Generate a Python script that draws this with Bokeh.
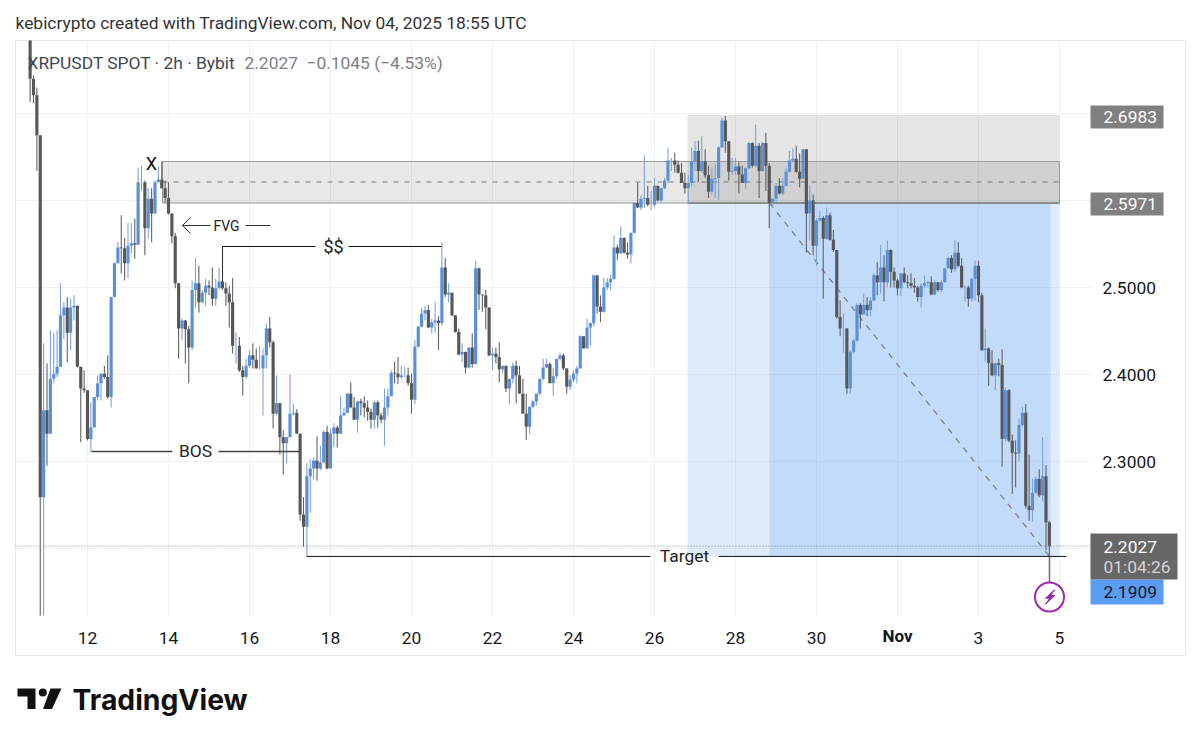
import numpy as np
from bokeh.core.properties import value
from bokeh.embed import file_html
from bokeh.models import FixedTicker, LinearAxis, NumeralTickFormatter
from bokeh.plotting import figure
from bokeh.resources import INLINE

# 2h candles, first one is Oct 10 14:00 (days past Nov 1 keep counting: 32 = Nov 1)
start_day = 10.5833
first_open = 2.784

closes = [
    2.740, 2.721, 2.675, 2.259, 2.359, 2.332, 2.395, 2.401, 2.409, 2.468,
    2.477, 2.448, 2.477, 2.479, 2.409, 2.384, 2.382, 2.326, 2.339, 2.374,
    2.390, 2.401, 2.397, 2.374, 2.489, 2.528, 2.546, 2.545, 2.528, 2.548,
    2.551, 2.549, 2.621, 2.621, 2.568, 2.602, 2.585, 2.621, 2.624, 2.614,
    2.603, 2.585, 2.559, 2.505, 2.453, 2.462, 2.452, 2.431, 2.497, 2.505,
    2.483, 2.494, 2.502, 2.500, 2.487, 2.499, 2.507, 2.499, 2.493, 2.483,
    2.433, 2.433, 2.405, 2.397, 2.410, 2.422, 2.417, 2.407, 2.407, 2.422,
    2.453, 2.437, 2.355, 2.367, 2.328, 2.321, 2.328, 2.355, 2.356, 2.332,
    2.239, 2.225, 2.283, 2.292, 2.301, 2.292, 2.299, 2.334, 2.292, 2.332,
    2.339, 2.332, 2.353, 2.356, 2.378, 2.362, 2.348, 2.369, 2.367, 2.362,
    2.357, 2.348, 2.368, 2.353, 2.348, 2.362, 2.375, 2.402, 2.401, 2.397,
    2.399, 2.399, 2.390, 2.371, 2.432, 2.455, 2.470, 2.474, 2.454, 2.460,
    2.462, 2.459, 2.523, 2.492, 2.494, 2.468, 2.449, 2.423, 2.426, 2.408,
    2.431, 2.412, 2.522, 2.492, 2.491, 2.477, 2.422, 2.424, 2.420, 2.406,
    2.410, 2.384, 2.395, 2.410, 2.399, 2.378, 2.355, 2.340, 2.363, 2.369,
    2.378, 2.395, 2.408, 2.412, 2.390, 2.398, 2.418, 2.422, 2.407, 2.386,
    2.394, 2.401, 2.407, 2.444, 2.430, 2.454, 2.459, 2.514, 2.478, 2.472,
    2.500, 2.506, 2.510, 2.546, 2.539, 2.557, 2.540, 2.538, 2.563, 2.597,
    2.592, 2.602, 2.603, 2.595, 2.595, 2.617, 2.600, 2.614, 2.623, 2.646,
    2.646, 2.641, 2.632, 2.620, 2.614, 2.620, 2.645, 2.657, 2.634, 2.645,
    2.629, 2.610, 2.625, 2.626, 2.661, 2.692, 2.668, 2.633, 2.634, 2.639,
    2.630, 2.620, 2.637, 2.666, 2.640, 2.663, 2.634, 2.666, 2.640, 2.597,
    2.602, 2.617, 2.608, 2.617, 2.633, 2.646, 2.648, 2.633, 2.625, 2.659,
    2.585, 2.600, 2.548, 2.577, 2.580, 2.556, 2.583, 2.555, 2.543, 2.466,
    2.453, 2.453, 2.384, 2.426, 2.439, 2.480, 2.469, 2.480, 2.474, 2.485,
    2.514, 2.506, 2.523, 2.506, 2.543, 2.518, 2.508, 2.499, 2.516, 2.506,
    2.505, 2.502, 2.500, 2.489, 2.502, 2.505, 2.506, 2.492, 2.506, 2.497,
    2.506, 2.522, 2.534, 2.521, 2.540, 2.525, 2.500, 2.500, 2.487, 2.510,
    2.525, 2.491, 2.428, 2.430, 2.413, 2.399, 2.413, 2.411, 2.326, 2.382,
    2.324, 2.310, 2.309, 2.342, 2.356, 2.249, 2.244, 2.264, 2.280, 2.261,
    2.283, 2.230, 2.2027,
]
highs = [
    2.784, 2.744, 2.730, 2.675, 2.436, 2.413, 2.451, 2.448, 2.451, 2.505,
    2.483, 2.489, 2.487, 2.491, 2.479, 2.409, 2.405, 2.382, 2.368, 2.374,
    2.399, 2.402, 2.410, 2.422, 2.489, 2.529, 2.552, 2.583, 2.557, 2.574,
    2.574, 2.579, 2.637, 2.640, 2.623, 2.614, 2.614, 2.623, 2.639, 2.645,
    2.623, 2.621, 2.585, 2.563, 2.505, 2.464, 2.463, 2.456, 2.508, 2.534,
    2.525, 2.497, 2.510, 2.508, 2.523, 2.510, 2.523, 2.547, 2.506, 2.502,
    2.511, 2.448, 2.443, 2.410, 2.418, 2.428, 2.436, 2.430, 2.433, 2.430,
    2.459, 2.466, 2.439, 2.399, 2.367, 2.336, 2.328, 2.400, 2.367, 2.360,
    2.332, 2.259, 2.298, 2.303, 2.305, 2.329, 2.318, 2.336, 2.341, 2.338,
    2.344, 2.341, 2.376, 2.362, 2.379, 2.391, 2.374, 2.370, 2.372, 2.375,
    2.370, 2.361, 2.370, 2.370, 2.356, 2.384, 2.384, 2.405, 2.415, 2.420,
    2.410, 2.409, 2.408, 2.401, 2.440, 2.456, 2.477, 2.479, 2.480, 2.464,
    2.484, 2.467, 2.552, 2.534, 2.505, 2.494, 2.468, 2.453, 2.436, 2.426,
    2.431, 2.447, 2.531, 2.523, 2.492, 2.497, 2.477, 2.431, 2.431, 2.437,
    2.410, 2.410, 2.395, 2.414, 2.416, 2.410, 2.395, 2.378, 2.363, 2.370,
    2.378, 2.395, 2.418, 2.418, 2.414, 2.408, 2.418, 2.425, 2.424, 2.407,
    2.399, 2.405, 2.410, 2.445, 2.443, 2.464, 2.460, 2.514, 2.514, 2.491,
    2.511, 2.511, 2.515, 2.560, 2.549, 2.570, 2.558, 2.552, 2.563, 2.598,
    2.620, 2.606, 2.652, 2.617, 2.611, 2.626, 2.617, 2.615, 2.626, 2.661,
    2.649, 2.655, 2.646, 2.643, 2.632, 2.629, 2.661, 2.668, 2.669, 2.674,
    2.659, 2.640, 2.638, 2.642, 2.663, 2.695, 2.697, 2.668, 2.649, 2.649,
    2.644, 2.640, 2.638, 2.667, 2.667, 2.687, 2.666, 2.667, 2.678, 2.643,
    2.602, 2.620, 2.626, 2.626, 2.637, 2.657, 2.660, 2.663, 2.654, 2.659,
    2.659, 2.617, 2.607, 2.580, 2.588, 2.582, 2.592, 2.586, 2.566, 2.543,
    2.485, 2.470, 2.453, 2.428, 2.441, 2.482, 2.482, 2.493, 2.489, 2.489,
    2.516, 2.529, 2.549, 2.537, 2.554, 2.544, 2.523, 2.510, 2.517, 2.523,
    2.514, 2.516, 2.511, 2.502, 2.505, 2.514, 2.508, 2.513, 2.508, 2.506,
    2.508, 2.522, 2.535, 2.537, 2.554, 2.552, 2.534, 2.502, 2.502, 2.511,
    2.531, 2.531, 2.494, 2.453, 2.431, 2.428, 2.414, 2.418, 2.429, 2.385,
    2.383, 2.331, 2.324, 2.349, 2.363, 2.366, 2.308, 2.280, 2.283, 2.291,
    2.328, 2.296, 2.232,
]
lows = [
    2.713, 2.712, 2.634, 2.123, 2.123, 2.295, 2.332, 2.390, 2.397, 2.410,
    2.441, 2.414, 2.428, 2.462, 2.408, 2.322, 2.379, 2.324, 2.311, 2.339,
    2.370, 2.370, 2.395, 2.372, 2.362, 2.489, 2.528, 2.516, 2.508, 2.511,
    2.539, 2.533, 2.549, 2.611, 2.537, 2.556, 2.552, 2.585, 2.621, 2.614,
    2.597, 2.584, 2.551, 2.499, 2.418, 2.439, 2.413, 2.390, 2.428, 2.477,
    2.471, 2.482, 2.479, 2.491, 2.479, 2.479, 2.498, 2.497, 2.479, 2.454,
    2.424, 2.413, 2.403, 2.376, 2.395, 2.408, 2.407, 2.407, 2.406, 2.353,
    2.407, 2.431, 2.338, 2.353, 2.308, 2.285, 2.298, 2.328, 2.353, 2.332,
    2.232, 2.202, 2.191, 2.241, 2.280, 2.278, 2.290, 2.298, 2.291, 2.292,
    2.316, 2.316, 2.332, 2.353, 2.356, 2.362, 2.348, 2.333, 2.353, 2.351,
    2.347, 2.338, 2.338, 2.339, 2.344, 2.318, 2.353, 2.375, 2.390, 2.389,
    2.395, 2.397, 2.387, 2.355, 2.366, 2.431, 2.454, 2.462, 2.454, 2.447,
    2.448, 2.428, 2.456, 2.489, 2.483, 2.467, 2.448, 2.422, 2.414, 2.401,
    2.407, 2.408, 2.412, 2.474, 2.472, 2.452, 2.421, 2.405, 2.413, 2.391,
    2.401, 2.380, 2.366, 2.390, 2.367, 2.378, 2.355, 2.325, 2.332, 2.361,
    2.364, 2.376, 2.393, 2.407, 2.390, 2.375, 2.395, 2.416, 2.405, 2.378,
    2.382, 2.391, 2.390, 2.407, 2.430, 2.433, 2.433, 2.455, 2.470, 2.460,
    2.471, 2.497, 2.497, 2.509, 2.532, 2.539, 2.539, 2.533, 2.528, 2.562,
    2.591, 2.589, 2.591, 2.593, 2.589, 2.592, 2.599, 2.598, 2.613, 2.620,
    2.634, 2.632, 2.631, 2.620, 2.608, 2.597, 2.616, 2.634, 2.621, 2.632,
    2.626, 2.603, 2.606, 2.603, 2.601, 2.661, 2.655, 2.623, 2.629, 2.630,
    2.608, 2.620, 2.613, 2.636, 2.638, 2.638, 2.603, 2.633, 2.611, 2.568,
    2.591, 2.598, 2.607, 2.606, 2.616, 2.632, 2.644, 2.632, 2.615, 2.625,
    2.540, 2.554, 2.537, 2.525, 2.576, 2.487, 2.555, 2.554, 2.541, 2.464,
    2.444, 2.425, 2.378, 2.378, 2.424, 2.437, 2.453, 2.468, 2.467, 2.467,
    2.485, 2.491, 2.493, 2.484, 2.500, 2.500, 2.500, 2.491, 2.490, 2.505,
    2.499, 2.499, 2.494, 2.484, 2.477, 2.499, 2.500, 2.491, 2.491, 2.495,
    2.495, 2.506, 2.522, 2.517, 2.518, 2.523, 2.499, 2.484, 2.478, 2.484,
    2.485, 2.483, 2.427, 2.415, 2.387, 2.398, 2.382, 2.398, 2.294, 2.323,
    2.322, 2.263, 2.270, 2.301, 2.340, 2.246, 2.232, 2.231, 2.263, 2.259,
    2.254, 2.198, 2.191,
]

price_ticks = [2.3, 2.4, 2.5]
grid_prices = [2.2, 2.3, 2.4, 2.5, 2.6, 2.7]
day_ticks = [12, 14, 16, 18, 20, 22, 24, 26, 28, 30, 32, 34, 36]
day_labels = {12: "12", 14: "14", 16: "16", 18: "18", 20: "20", 22: "22", 24: "24",
              26: "26", 28: "28", 30: "30", 32: "", 34: "3", 36: "5"}

last_close = 2.2027
target_low = 2.1909
zone_low = 2.5971
zone_high = 2.6983
fvg_top = 2.6448
fvg_mid = 2.6213


# screenshot pixel to axis value, only used for placing drawings and labels
def dx(sx):
    return 12 + (sx - 87) / 40.5


def py(sy):
    return 2.5 + (287 - sy) / 870


p = figure(width=1190, height=735, output_backend="svg", toolbar_location=None,
           x_range=(dx(0), dx(1190)), y_range=(py(735), py(0)),
           x_axis_location=None, y_axis_location=None,
           min_border=0, min_border_left=0, min_border_right=0,
           min_border_top=0, min_border_bottom=0, outline_line_color=None)
p.grid.visible = False


def label(sx, sy, txt, size="17.4px", color="#131722", align="left", style="normal", font="Roboto"):
    p.text(x=dx(sx), y=py(sy), text=[txt], text_font=value(font), text_font_size=size, text_color=color,
           text_align=align, text_baseline="middle", text_font_style=style)


# pane and grid
p.quad(left=dx(15), right=dx(1185), bottom=py(655), top=py(40), fill_color="white",
       line_color="#e6e7ea", line_width=1)
p.segment(x0=dx(15), x1=dx(1090), y0=grid_prices, y1=grid_prices, line_color="#f0f1f4", line_width=1)
p.segment(x0=day_ticks, x1=day_ticks, y0=py(40), y1=py(616), line_color="#f0f1f4", line_width=1)

# long position drawing
p.quad(left=dx(687), right=dx(1059), bottom=py(556), top=zone_low, fill_color="#5b9cf6",
       fill_alpha=0.2, line_color=None)
p.quad(left=dx(769), right=dx(1050), bottom=py(556), top=zone_low, fill_color="#5b9cf6",
       fill_alpha=0.2, line_color=None)
p.quad(left=dx(687), right=dx(1059), bottom=zone_low, top=zone_high, fill_color="#000000",
       fill_alpha=0.1, line_color=None)
p.quad(left=dx(162), right=dx(1059), bottom=zone_low, top=fvg_top, fill_color="#000000",
       fill_alpha=0.09, line_color="#9a9a9a", line_width=1)
p.segment(x0=dx(687), x1=dx(1059), y0=zone_low, y1=zone_low, line_color="#8c8c8c", line_width=2)
p.segment(x0=dx(162), x1=dx(1059), y0=fvg_mid, y1=fvg_mid, line_color="#7a7a7a", line_width=1,
          line_dash="5 6")
p.segment(x0=dx(769), x1=dx(1049), y0=zone_low, y1=target_low, line_color="#808080", line_width=1.3,
          line_dash="6 6")

# candles
t = start_day + np.arange(len(closes)) / 12
opens = [first_open] + closes[:-1]
is_up = [c >= o for c, o in zip(closes, opens)]
wick_colors = ["#7ba3d8" if u else "#626262" for u in is_up]
body_colors = ["#5a90da" if u else "#575757" for u in is_up]
p.segment(x0=t, x1=t, y0=lows, y1=highs, line_color=wick_colors, line_width=1.1)
p.vbar(x=t, width=0.078, bottom=opens, top=closes, fill_color=body_colors, line_color=None)

# last price
p.segment(x0=dx(15), x1=dx(1090), y0=last_close, y1=last_close, line_color="#808080", line_width=1,
          line_dash="1 2")

# annotations
p.segment(x0=[dx(91), dx(218)], x1=[dx(172), dx(300)], y0=py(451), y1=py(451), line_color="#444444", line_width=1.5)
p.segment(x0=[dx(222), dx(348)], x1=[dx(315), dx(441)], y0=py(246), y1=py(246), line_color="#111111", line_width=1)
p.segment(x0=dx(222), x1=dx(222), y0=py(246), y1=py(281), line_color="#333333", line_width=1)
p.segment(x0=[dx(306), dx(718)], x1=[dx(650), dx(1066)], y0=target_low, y1=target_low, line_color="#111111", line_width=1)
p.segment(x0=[dx(182), dx(245)], x1=[dx(210), dx(270)], y0=py(225), y1=py(225), line_color="#333333", line_width=1)
p.line(x=[dx(190), dx(182), dx(190)], y=[py(217), py(225), py(233)], line_color="#333333", line_width=1)

label(195, 450, "BOS", color="#222222", align="center")
label(333, 246, "$$", size="18px", color="#222222", align="center")
label(684, 555, "Target", color="#222222", align="center")
label(226, 225, "FVG", size="14px", color="#222222", align="center")
label(151, 163, "X", size="18px", color="#111111", align="center")

# signal marker under the last candle
p.segment(x0=dx(1049), x1=dx(1049), y0=target_low, y1=py(582), line_color="#6b6b6b", line_width=1.5)
p.scatter(x=dx(1049), y=py(596.5), marker="circle", size=29, fill_color="white", line_color="#9c27b0", line_width=2)
p.patch(x=[dx(1054), dx(1045), dx(1049.3), dx(1045), dx(1054.3), dx(1050)],
        y=[py(589.3), py(597.7), py(597.7), py(603.7), py(595), py(595)],
        fill_color="#9c27b0", line_color="#9c27b0", line_width=1)

# price scale tags
tag_left = 1090
for price, top, bottom, color in [(zone_high, 105, 128, "#808080"), (zone_low, 192, 215, "#808080")]:
    p.quad(left=dx(tag_left), right=dx(1163), bottom=py(bottom), top=py(top), fill_color=color, line_color=None)
    label(1103, (top + bottom) / 2, f"{price:.4f}", color="#ffffff")
p.quad(left=dx(tag_left), right=dx(1163), bottom=py(604), top=py(579), fill_color="#5b9cf6", line_color=None)
p.quad(left=dx(tag_left), right=dx(1177), bottom=py(579), top=py(533), fill_color="#676767", line_color=None)
label(1103, 546, f"{last_close:.4f}", color="#ffffff")
label(1103, 566, "01:04:26", color="#d4d4d4")
label(1103, 591, f"{target_low:.4f}")

# axes live inside the pane
yaxis = LinearAxis(fixed_location=dx(1096), ticker=FixedTicker(ticks=price_ticks),
                   formatter=NumeralTickFormatter(format="0.0000"))
yaxis.axis_line_color = None
yaxis.major_tick_line_color = None
yaxis.minor_tick_line_color = None
yaxis.major_label_standoff = 0
yaxis.major_label_text_font = "Roboto"
yaxis.major_label_text_font_size = "17.4px"
yaxis.major_label_text_color = "#131722"
p.add_layout(yaxis, "right")

xaxis = LinearAxis(fixed_location=py(625), ticker=FixedTicker(ticks=day_ticks),
                   major_label_overrides=day_labels)
xaxis.axis_line_color = None
xaxis.major_tick_line_color = None
xaxis.minor_tick_line_color = None
xaxis.major_label_standoff = 0
xaxis.major_label_text_font = "Roboto"
xaxis.major_label_text_font_size = "17.4px"
xaxis.major_label_text_color = "#131722"
p.add_layout(xaxis, "below")
label(897, 635, "Nov", size="17px", align="center", style="bold")

# header texts
label(15, 22, "kebicrypto created with TradingView.com, Nov 04, 2025 18:55 UTC", color="#333333")
label(27, 62, "XRPUSDT SPOT · 2h · Bybit", color="#42464f")
label(244, 62, "2.2027", color="#7c8088")
label(306, 62, "−0.1045 (−4.53%)", color="#7c8088")

# tradingview logo
p.patch(x=[dx(17), dx(35), dx(35), dx(27), dx(27), dx(17)],
        y=[py(688), py(688), py(708.5), py(708.5), py(696), py(696)], fill_color="#111111", line_color=None)
p.scatter(x=dx(42.3), y=py(692), marker="circle", size=8, fill_color="#111111", line_color=None)
p.patch(x=[dx(50), dx(61), dx(51.5), dx(42.5)], y=[py(688), py(688), py(708.5), py(708.5)],
        fill_color="#111111", line_color=None)
label(72, 699, "TradingView", size="28.3px", color="#111111", style="bold", font="Inter")

open("out.html", "w").write(file_html(p, INLINE))
